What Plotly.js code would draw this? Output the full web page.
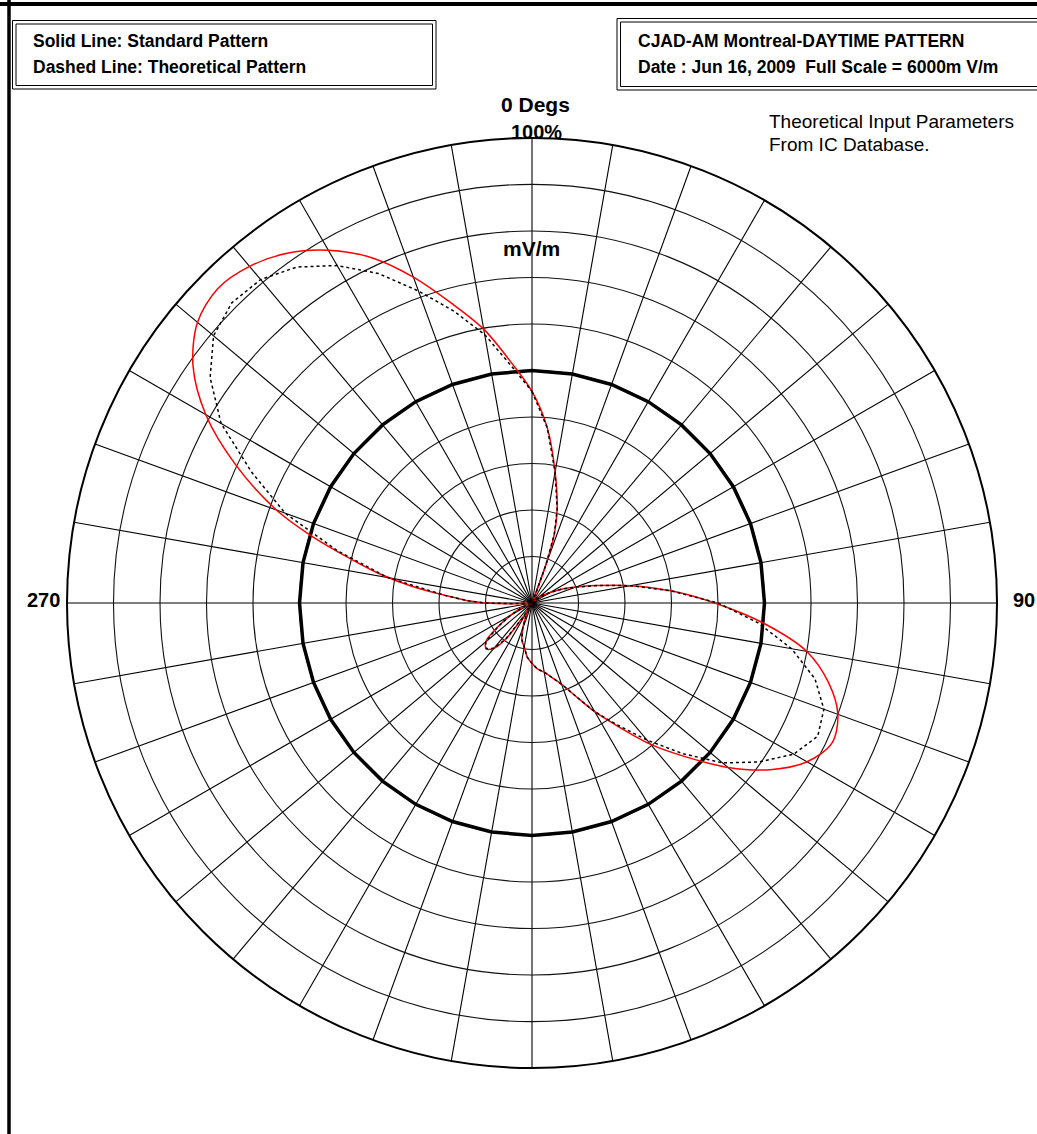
<!DOCTYPE html>
<html>
<head>
<meta charset="utf-8">
<script src="https://cdn.plot.ly/plotly-3.0.1.min.js"></script>
<style>
  html, body { margin: 0; padding: 0; background: #fff; }
  #chart { width: 1037px; height: 1134px; }
</style>
</head>
<body>
<div id="chart"></div>
<script>
// ---- Data (percent of full scale, azimuth in degrees, clockwise from North) ----
const standardTheta = [0, 5, 10, 15, 18, 20, 21, 22, 30, 40, 50, 55, 60, 65, 70, 75, 80, 85, 90, 95,
  100, 105, 110, 115, 120, 125, 130, 135, 140, 145, 150, 155, 160, 165, 170, 175, 180, 185, 190, 195,
  200, 205, 208, 210, 213, 216, 220, 225, 230, 235, 240, 245, 248, 255, 262, 266, 268, 270, 272, 275, 278,
  281, 284, 287, 290, 295, 300, 305, 310, 315, 320, 325, 330, 335, 340, 345, 350, 355, 360];
const standardR = [45.5, 37.8, 28.6, 20.9, 15.5, 8.7, 3, 0.5, 1.5, 1.5, 0.8, 3, 4.5, 7, 10, 14.5, 21.5, 30, 39.3, 50,
  60, 66, 70, 71.2, 68.3, 62.5, 55, 46.8, 39.7, 32.5, 27, 22, 18.6, 16.6, 15.1, 14.3, 13, 11.7, 9.6, 8.3,
  5.9, 3, 0.5, 1.5, 4, 9.5, 12.7, 13.9, 13, 9, 5.5, 2.5, 0.5, 1, 1, 0.5, 4, 10, 13.8, 18.8, 26.3,
  33.8, 41, 49.8, 58.5, 70.3, 81, 89, 93.9, 95.6, 94.5, 91.8, 87.6, 82, 74.6, 66.7, 59.8, 52, 45.5];

const theoreticalTheta = [0, 5, 10, 15, 18, 20, 21, 22, 30, 40, 50, 55, 60, 65, 70, 75, 80, 85, 90, 95,
  100, 105, 110, 115, 120, 125, 130, 135, 140, 145, 150, 155, 160, 165, 170, 175, 180, 185, 190, 195,
  200, 205, 208, 210, 213, 216, 220, 225, 230, 235, 240, 245, 248, 255, 262, 266, 268, 270, 272, 275, 280,
  285, 290, 295, 300, 305, 310, 315, 320, 325, 330, 335, 340, 345, 350, 355, 360];
const theoreticalR = [45.5, 37.8, 28.6, 20.9, 15.5, 8.7, 3, 0.5, 1.5, 1.5, 0.8, 3, 4.5, 7, 10, 14.5, 21.5, 30, 40, 48.8,
  56.7, 63, 66.8, 67.8, 65, 59.6, 53.5, 45.8, 38.5, 32, 27, 22, 18.6, 16.6, 15.1, 14.3, 13, 11.7, 9.6, 8.3,
  5.9, 3, 0.5, 1.5, 4, 9.5, 12.7, 13.9, 13, 9, 5.5, 2.5, 0.5, 1, 1, 0.5, 4, 10, 13.8, 18.8, 31.5,
  43.2, 56.5, 66.5, 77.2, 84.5, 89.4, 91.3, 90.8, 88.2, 83.8, 78.2, 71.4, 65, 58.6, 51.2, 45.5];

// 50% reference ring
const refRingTheta = [0, 10, 20, 30, 40, 50, 60, 70, 80, 90, 100, 110, 120, 130, 140, 150, 160, 170, 180,
  190, 200, 210, 220, 230, 240, 250, 260, 270, 280, 290, 300, 310, 320, 330, 340, 350, 360];
const refRingLevel = 50;

// ---- Layout helpers (pixels -> paper) ----
const W = 1037, H = 1134;
const px = x => x / W;
const py = y => 1 - y / H;
const CX = 532, CY = 603, RAD = 465;

const FONT = '"Liberation Sans", Arial, sans-serif';

const traces = [
  {
    type: 'scatterpolar', mode: 'lines',
    theta: refRingTheta, r: refRingTheta.map(() => refRingLevel),
    line: { color: '#000', width: 3.5 }, hoverinfo: 'skip'
  },
  {
    type: 'scatterpolar', mode: 'lines', name: 'Standard Pattern',
    theta: standardTheta, r: standardR,
    line: { color: '#ff0000', width: 1.5, shape: 'spline', smoothing: 0.9 }
  },
  {
    type: 'scatterpolar', mode: 'lines', name: 'Theoretical Pattern',
    theta: theoreticalTheta, r: theoreticalR,
    line: { color: '#000', width: 1.5, dash: '3px,3px' }
  }
];

function ann(text, x, y, size, bold, xanchor) {
  return {
    text: bold ? '<b>' + text + '</b>' : text,
    xref: 'paper', yref: 'paper', x: px(x), y: py(y),
    xanchor: xanchor || 'center', yanchor: 'middle',
    showarrow: false,
    font: { family: FONT, size: size, color: '#000' }
  };
}

function rect(x0, y0, x1, y1, w) {
  return {
    type: 'rect', xref: 'paper', yref: 'paper',
    x0: px(x0), x1: px(x1), y0: py(y0), y1: py(y1),
    line: { color: '#000', width: w || 1 }, fillcolor: 'rgba(0,0,0,0)'
  };
}
function hline(x0, x1, y, w) {
  return { type: 'line', xref: 'paper', yref: 'paper', x0: px(x0), x1: px(x1), y0: py(y), y1: py(y), line: { color: '#000', width: w } };
}
function vline(x, y0, y1, w) {
  return { type: 'line', xref: 'paper', yref: 'paper', x0: px(x), x1: px(x), y0: py(y0), y1: py(y1), line: { color: '#000', width: w } };
}

const layout = {
  width: W, height: H,
  margin: { l: 0, r: 0, t: 0, b: 0, pad: 0 },
  paper_bgcolor: '#fff',
  showlegend: false,
  polar: {
    domain: { x: [px(CX - RAD), px(CX + RAD)], y: [py(CY + RAD), py(CY - RAD)] },
    bgcolor: '#fff',
    gridshape: 'linear',
    angularaxis: {
      rotation: 90, direction: 'clockwise',
      tickmode: 'linear', tick0: 0, dtick: 10,
      showticklabels: false, ticks: '',
      showgrid: true, gridcolor: '#000', gridwidth: 1.1,
      showline: true, linecolor: '#000', linewidth: 2
    },
    radialaxis: {
      range: [0, 100], tickmode: 'linear', tick0: 0, dtick: 10,
      showticklabels: false, ticks: '', showline: false,
      showgrid: true, gridcolor: '#111', gridwidth: 1.1
    }
  },
  shapes: [
    hline(0, W + 5, 4, 4),
    vline(9, 0, H + 5, 3.5),
    rect(12.5, 20.5, 436, 89, 1),
    rect(16, 24, 432.5, 85.5, 1),
    rect(617, 18.5, W + 10, 90, 1),
    rect(620.5, 22, W + 10, 86.5, 1)
  ],
  annotations: [
    ann('Solid Line: Standard Pattern', 31, 41.5, 17.5, true, 'left'),
    ann('Dashed Line: Theoretical Pattern', 31, 66.5, 17.5, true, 'left'),
    ann('CJAD-AM Montreal-DAYTIME PATTERN', 636, 41.5, 17.5, true, 'left'),
    ann('Date : Jun 16, 2009  Full Scale = 6000m V/m', 636, 67, 17.5, true, 'left'),
    ann('Theoretical Input Parameters', 767, 121.5, 19, false, 'left'),
    ann('From IC Database.', 767, 145, 19, false, 'left'),
    ann('0 Degs', 535, 104.5, 21, true),
    ann('100%', 536, 131.5, 20, true),
    ann('mV/m', 531, 248, 21, true),
    ann('270', 43, 600, 20, true),
    ann('90', 1024, 600, 20, true)
  ]
};

Plotly.newPlot('chart', traces, layout, { staticPlot: true, displayModeBar: false });
</script>
</body>
</html>
